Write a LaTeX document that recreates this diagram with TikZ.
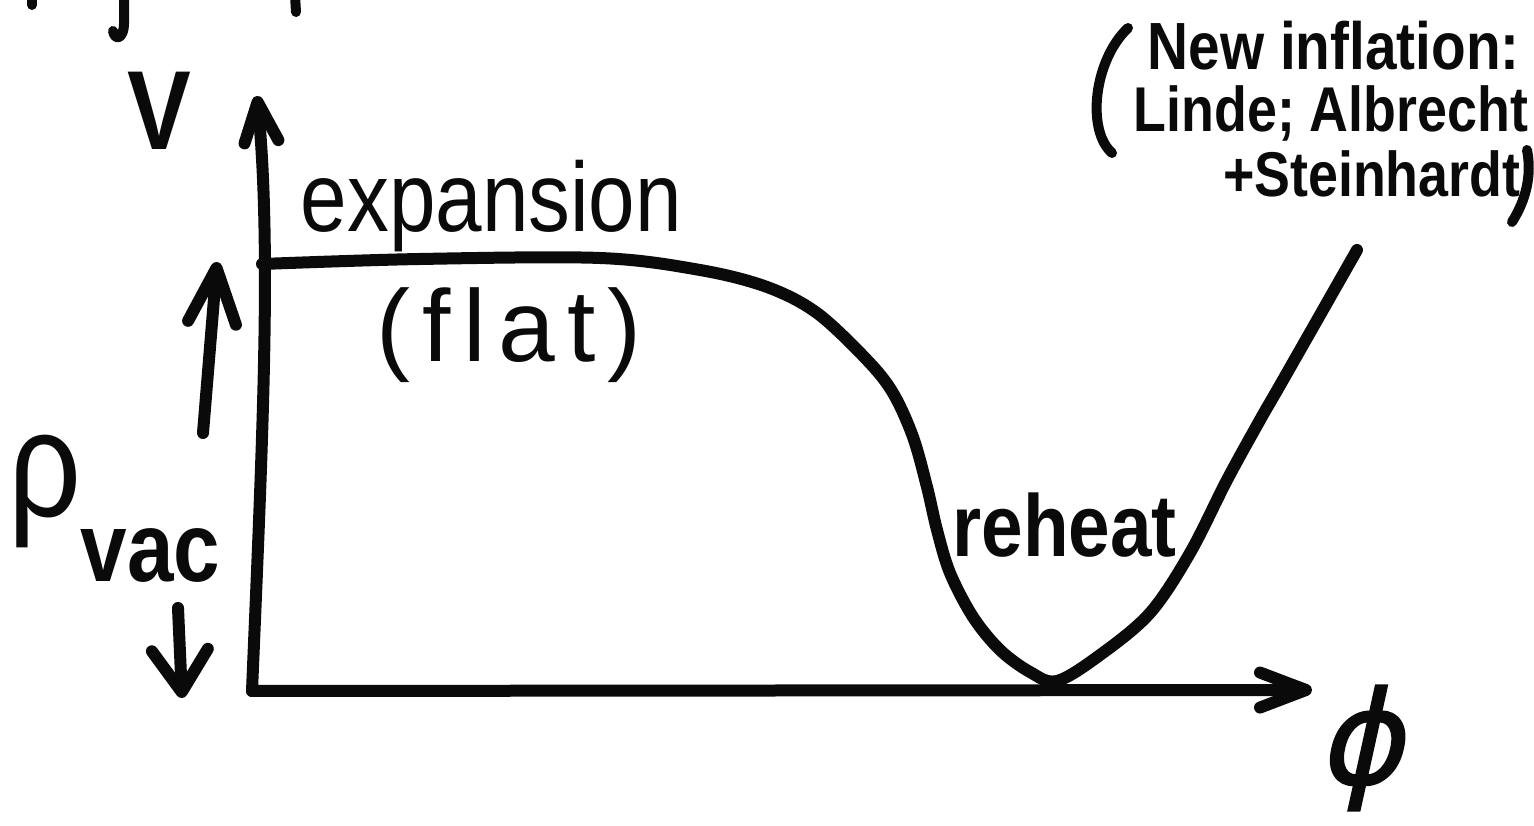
\documentclass[tikz,border=0pt]{standalone}
\usepackage{fontspec}
\usepackage{tikz}
\usetikzlibrary{arrows.meta,positioning}
\newfontfamily\hand[FakeStretch=0.85]{Liberation Sans}
\newfontfamily\handsp[LetterSpace=12]{Liberation Sans}
\newfontfamily\phifont[FakeSlant=0.22,FakeBold=1.2]{DejaVu Sans}
\definecolor{ink}{HTML}{0A0A0A}
\tikzset{
  pen/.style={draw=ink,line width=1.2mm,line cap=round,line join=round},
  ax/.style={pen,-{Straight Barb[length=4mm,width=3.4mm,round]}},
  bigar/.style={pen,-{Straight Barb[length=5.5mm,width=4.8mm,round]}},
  lbl/.style={inner sep=0pt,text=ink}
}

\begin{document}
\begin{tikzpicture}[x=0.1mm,y=-0.1mm]
\useasboundingbox (0,0) rectangle (1534,826);
\clip (0,0) rectangle (1534,826);
% axes
\coordinate (O) at (252,691);
\coordinate (Vtip) at (257,96);
\coordinate (Ftip) at (1312,690);
\draw[ax] (O) .. controls (262,450) and (272,250) .. (Vtip);
\draw[ax,-{Straight Barb[length=4.6mm,width=3.5mm,round]}] (O) -- (Ftip);
% potential
\draw[pen] plot[smooth,tension=0.55] coordinates {(262,264) (420,259) (600,258)
  (700,270) (767,287) (817,313) (867,360) (893,393) (913,437) (927,487)
  (937,530) (950,573) (973,617) (1000,650) (1030,672) (1057,681) (1100,655)
  (1150,613) (1190,553) (1227,480) (1260,420) (1283,380) (1357,250)};
% labels
\node[lbl,anchor=base,font=\hand\bfseries\fontsize{32}{34}\selectfont] (V) at (159,150) {V};
\node[lbl,anchor=base west,font=\hand\fontsize{28}{30}\selectfont] (expn) at (300,232) {expansion};
\node[lbl,anchor=base west,font=\handsp\fontsize{29}{31}\selectfont] (flat) at (376,362) {(flat)};
\node[lbl,anchor=base west,font=\hand\bfseries\fontsize{25}{27}\selectfont] (reheat) at (952,557) {reheat};
\node[lbl,anchor=base west,font=\hand\fontsize{43}{46}\selectfont] (rho) at (8,517) {ρ};
\node[lbl,anchor=base west,font=\hand\bfseries\fontsize{28}{30}\selectfont] (vac) at (80,582) {vac};
\node[lbl,font=\phifont\fontsize{37}{41}\selectfont] (phi) at (1360,748) {ϕ};
% rho_vac arrows
\coordinate (upA) at (203,433);
\coordinate (upB) at (217,262);
\coordinate (dnA) at (178,608);
\coordinate (dnB) at (182,698);
\draw[bigar] (upA) -- (upB);
\draw[pen,-{Straight Barb[length=4.2mm,width=5.6mm,round]}] (dnA) -- (dnB);
% note
\node[lbl,anchor=base west,font=\hand\bfseries\fontsize{19}{21}\selectfont] (ann1) at (1147,70) {New inflation:};
\node[lbl,anchor=base west,font=\hand\bfseries\fontsize{18}{20}\selectfont] (ann2) at (1133,132) {Linde; Albrecht};
\node[lbl,anchor=base east,font=\hand\bfseries\fontsize{18}{20}\selectfont] (ann3) at (1521,197) {+Steinhardt};
\draw[pen,line width=1mm] (1128,28) .. controls (1094,60) and (1086,130) .. (1112,153);
\draw[pen,line width=1mm] (1527,150) .. controls (1532,175) and (1526,200) .. (1512,222);
% cut-off strokes at the top edge
\draw[pen,line width=1mm] (32,-5) -- (32,5);
\draw[pen,line width=1mm] (124,-5) -- (124,24) .. controls (124,38) and (115,42) .. (113,31);
\draw[pen,line width=1mm] (295,-5) -- (296,12);
\end{tikzpicture}
\end{document}
